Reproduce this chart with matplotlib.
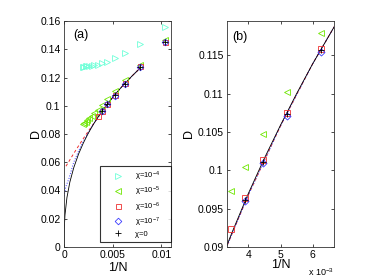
import matplotlib
matplotlib.use("Agg")
from matplotlib import pyplot as plt

plt.rcParams['font.family'] = ['Liberation Sans', 'DejaVu Sans']
plt.rcParams['mathtext.fontset'] = 'custom'
plt.rcParams['mathtext.rm'] = 'Liberation Sans'
plt.rcParams['mathtext.it'] = 'Liberation Sans:italic'

# system sizes and 1/N
N = [96, 128, 160, 192, 224, 256, 288, 320, 352, 384, 416, 448, 480, 512]
invN = [1.0 / n for n in N]

# D values
D_chi4 = [0.1560, 0.1437, 0.1376, 0.1336, 0.1312, 0.1300, 0.1292, 0.1287,
          0.1283, 0.1281, 0.1279, 0.1278, 0.1277, 0.1276]
D_chi5 = [0.1462, 0.1290, 0.1179, 0.1102, 0.1047, 0.1005, 0.0973, 0.0947,
          0.0927, 0.0911, 0.0898, 0.0888, 0.0880, 0.0874]
D_chi6 = [0.1452, 0.1279, 0.1159, 0.1075, 0.1013, 0.0964, 0.0924]
D_chi7 = [0.1448, 0.1274, 0.1155, 0.1071, 0.1010, 0.0960]
D_chi0 = [0.1450, 0.1276, 0.1157, 0.1073, 0.1011, 0.0961]

# extrapolation curves
fit0_x = [0, 0.00002, 0.0001, 0.0003, 0.0006, 0.001, 0.0015, 0.002, 0.0025,
          0.003, 0.0033, 0.0035, 0.004, 0.0045, 0.005, 0.0055, 0.006, 0.0065,
          0.007, 0.0078]
fit0_y = [0, 0.0120, 0.0226, 0.0349, 0.0459, 0.0561, 0.0659, 0.0738, 0.0806,
          0.0866, 0.0899, 0.0920, 0.0970, 0.1016, 0.1059, 0.1100, 0.1139, 0.1175,
          0.1211, 0.1265]
fit6_x = [0.0002, 0.0005, 0.001, 0.0015, 0.002, 0.0025, 0.003, 0.0035, 0.004,
          0.005, 0.006, 0.007, 0.0078]
fit6_y = [0.0572, 0.0605, 0.0662, 0.0716, 0.0769, 0.0820, 0.0868, 0.0918,
          0.0968, 0.1058, 0.1139, 0.1211, 0.1265]
fit7_x = [0, 0.0002, 0.0005, 0.001, 0.0015, 0.002, 0.0025, 0.003, 0.0035,
          0.004, 0.005, 0.006, 0.007, 0.0078]
fit7_y = [0.036, 0.0430, 0.0483, 0.0600, 0.0680, 0.0750, 0.0810, 0.0867,
          0.0918, 0.0968, 0.1058, 0.1139, 0.1211, 0.1265]

labels = [r'χ=10$^{-4}$', r'χ=10$^{-5}$', r'χ=10$^{-6}$', r'χ=10$^{-7}$', 'χ=0']
cCyan = '#6fffd8'
cGreen = '#6ee600'
cRed = '#ee3030'
cBlue = '#3a3aff'

W, H = 369, 278
fig = plt.figure(figsize=(W / 100, H / 100), dpi=100)
axA = fig.add_axes([64 / W, 1 - 247 / H, 107 / W, 226 / H])
axB = fig.add_axes([227 / W, 1 - 247 / H, 107 / W, 226 / H])


def drawAll(ax, ms):
    ax.plot(fit6_x, fit6_y, '--', color=cRed, lw=0.7, dashes=(3, 2.5))
    ax.plot(fit7_x, fit7_y, ':', color=cBlue, lw=0.7)
    ax.plot(fit0_x, fit0_y, '-', color='black', lw=0.6)
    ax.plot(invN[:len(D_chi4)], D_chi4, '>', color=cCyan, mfc='none', ms=ms, mew=0.6, ls='none', label=labels[0])
    ax.plot(invN[:len(D_chi5)], D_chi5, '<', color=cGreen, mfc='none', ms=ms, mew=0.6, ls='none', label=labels[1])
    ax.plot(invN[:len(D_chi6)], D_chi6, 's', color=cRed, mfc='none', ms=ms * 0.8, mew=0.6, ls='none', label=labels[2])
    ax.plot(invN[:len(D_chi7)], D_chi7, 'D', color=cBlue, mfc='none', ms=ms * 0.75, mew=0.6, ls='none', label=labels[3])
    ax.plot(invN[:len(D_chi0)], D_chi0, '+', color='black', ms=ms, mew=0.6, ls='none', label=labels[4])


for ax in (axA, axB):
    ax.tick_params(direction='in', top=True, right=True, length=2.5, width=0.5,
                   labelsize=7.5, pad=2.5)
    for s in ax.spines.values():
        s.set_linewidth(0.6)
        s.set_color('#333333')

drawAll(axA, 4.5)
axA.set_xlim(0, 0.011)
axA.set_ylim(0, 0.16)
axA.set_xticks([0, 0.005, 0.01])
axA.set_xticklabels(['0', '0.005', '0.01'])
axA.set_yticks([0, 0.02, 0.04, 0.06, 0.08, 0.1, 0.12, 0.14, 0.16])
axA.set_yticklabels(['0', '0.02', '0.04', '0.06', '0.08', '0.1', '0.12', '0.14', '0.16'])
axA.set_xlabel('1/N', fontsize=9, labelpad=1)
axA.set_ylabel('D', fontsize=9, labelpad=-1)
axA.text(0.084, 0.94, '(a)', transform=axA.transAxes, fontsize=9, va='center')
leg = axA.legend(loc='lower right', bbox_to_anchor=(1.0, 0.022), fontsize=5.5,
                 frameon=True, fancybox=False, edgecolor='black',
                 handlelength=3.8, handletextpad=0.3, labelspacing=0.24,
                 borderpad=0.55, borderaxespad=0)
leg.get_frame().set_linewidth(0.8)
# MATLAB-style legend keeps extra room on the right of the labels
for t in leg.get_texts():
    t.set_text(t.get_text() + '    ')

drawAll(axB, 4.8)
axB.set_xlim(1 / 300, 1 / 150)
axB.set_ylim(0.09, 0.1195)
axB.set_xticks([0.004, 0.005, 0.006])
axB.set_xticklabels(['4', '5', '6'])
axB.set_yticks([0.09, 0.095, 0.1, 0.105, 0.11, 0.115])
axB.set_yticklabels(['0.09', '0.095', '0.1', '0.105', '0.11', '0.115'])
axB.set_xlabel('1/N', fontsize=9, labelpad=-1)
axB.set_ylabel('D', fontsize=9, labelpad=2)
axB.text(0.053, 0.93, '(b)', transform=axB.transAxes, fontsize=9, va='center')
axB.text(1.0, -0.085, r'x 10$^{-3}$', transform=axB.transAxes, fontsize=6.5,
         ha='right', va='top')

fig.savefig('out.png', dpi=100)
